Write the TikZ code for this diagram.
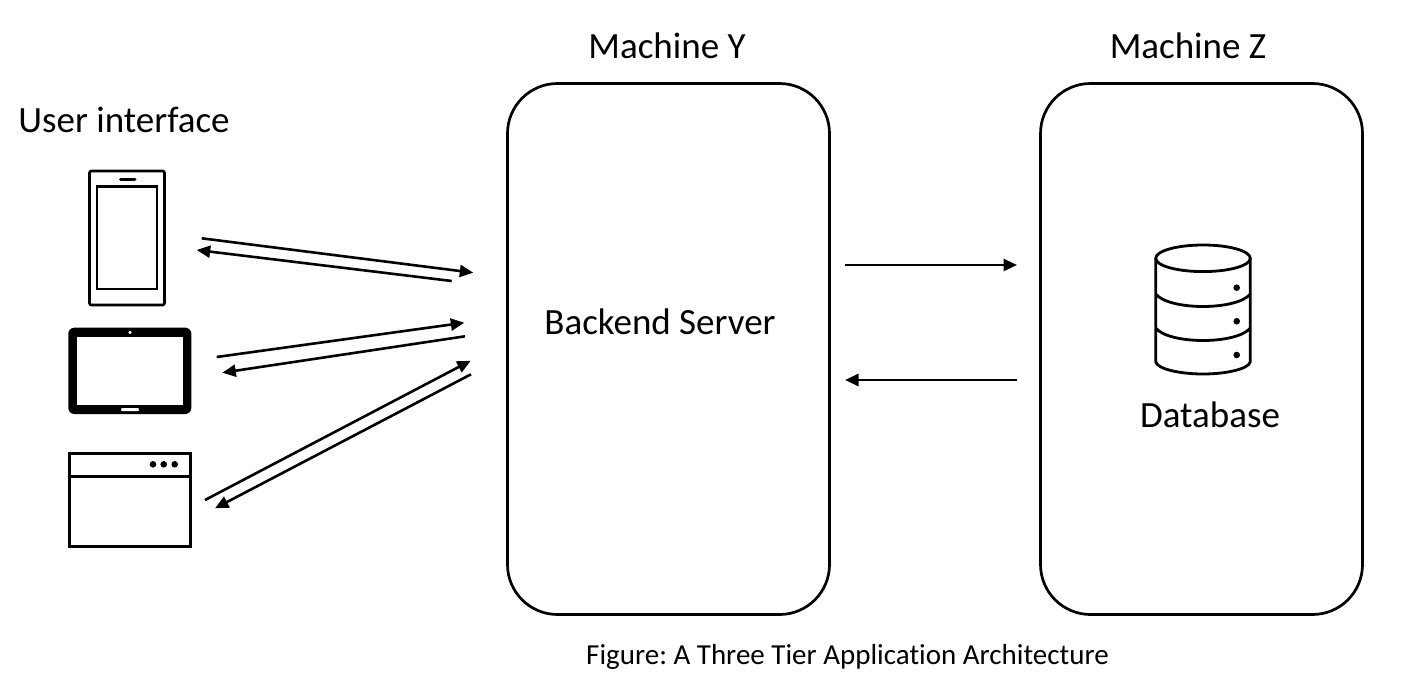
\documentclass[tikz,border=0pt]{standalone}
\usepackage{fontspec}
\setmainfont[Ligatures=NoCommon]{Carlito}
\usetikzlibrary{arrows.meta}
\tikzset{
  tier/.style={draw=black,line width=2.7pt,rounded corners=50pt,minimum width=322pt,minimum height=531pt,inner sep=0pt},
  label/.style={inner sep=0pt,font=\fontsize{37}{41}\selectfont,text=black},
  caption/.style={inner sep=0pt,font=\fontsize{29}{32}\selectfont\frenchspacing,text=black},
  link/.style={line width=2.6pt,-{Triangle[length=13.5pt,width=12pt]}},
  icon/.style={draw=black,line width=2.7pt}
}
\begin{document}
\begin{tikzpicture}[x=1pt,y=-1pt]
\useasboundingbox (0,0) rectangle (1410,696);
\node[tier] (y) at (668.5,349) {};
\node[tier] (z) at (1201.5,349) {};
\node[label] (ly) at (667,46) {Machine Y};
\node[label] (lz) at (1188,46) {Machine Z};
\node[label] (ui) at (124,120) {User interface};
\node[label] (be) at (660,322) {Backend Server};
\node[label] (db) at (1210,415) {Database};
\node[caption] (cap) at (847.5,656.5) {Figure: A Three Tier Application Architecture};
% phone
\draw[icon,rounded corners=2pt] (89.5,171) rectangle (164.5,305);
\draw[icon] (97,186.5) rectangle (157,289);
\draw[black,line width=3pt,line cap=round] (120.5,179.3) -- (135,179.3);
% tablet
\fill[black,rounded corners=6pt] (68.3,327.7) rectangle (191.3,414);
\fill[white] (77.3,337) rectangle (182.7,405);
\fill[white] (130,332.3) circle (1.7);
\fill[white,rounded corners=1pt] (121,408) rectangle (139,411);
% window
\draw[icon] (69.5,453.5) rectangle (190.5,546.5);
\draw[icon] (69.5,476.7) -- (190.5,476.7);
\foreach \px in {153,163.7,174.7} \fill[black] (\px,464.3) circle (3.3);
% database
\begin{scope}[line width=2.8pt,line join=round]
\draw (1203,258.3) ellipse [x radius=47.3,y radius=13.3];
\draw (1155.7,258.3) -- (1155.7,361.7) .. controls (1157,369) and (1180,374) .. (1203,374) .. controls (1226,374) and (1249,369) .. (1250.3,361.7) -- (1250.3,258.3);
\draw (1155.7,294) .. controls (1162,302) and (1182,306.5) .. (1203,306.5) .. controls (1224,306.5) and (1244,302) .. (1250.3,294);
\draw (1155.7,328) .. controls (1162,336) and (1182,340.5) .. (1203,340.5) .. controls (1224,340.5) and (1244,336) .. (1250.3,328);
\end{scope}
\foreach \py in {287.7,321.3,355} \fill[black] (1236.7,\py) circle (3.3);
% connector ends
\coordinate (a1) at (201.7,238.3); \coordinate (b1) at (473.3,272.7);
\coordinate (a2) at (451.7,281);   \coordinate (b2) at (196.7,250);
\coordinate (a3) at (216.7,357);   \coordinate (b3) at (464.3,322.7);
\coordinate (a4) at (465,336.3);   \coordinate (b4) at (222.3,372.7);
\coordinate (a5) at (205,500);     \coordinate (b5) at (470.7,360.7);
\coordinate (a6) at (471,374.3);   \coordinate (b6) at (215,508.3);
\coordinate (a7) at (845,265);     \coordinate (b7) at (1017,265);
\coordinate (a8) at (1017,380);    \coordinate (b8) at (845,380);
\foreach \i in {1,...,8} \draw[link] (a\i) -- (b\i);
\end{tikzpicture}
\end{document}
